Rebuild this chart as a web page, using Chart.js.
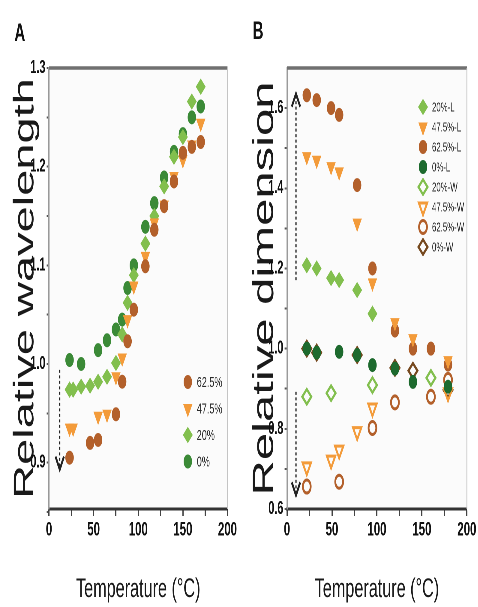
<!DOCTYPE html>
<html><head><meta charset="utf-8">
<script src="https://cdn.jsdelivr.net/npm/chart.js@4.4.1/dist/chart.umd.min.js"></script>
<style>
html,body{margin:0;padding:0;background:#fff;overflow:hidden;width:478px;height:607px}
#wrap{position:absolute;left:0;top:0;width:797px;height:607px;transform:scaleX(0.6);transform-origin:0 0;filter:blur(0.35px)}
#ca{position:absolute;left:0;top:0}
#cb{position:absolute;left:397px;top:0}
</style></head><body>
<div id="wrap"><canvas id="ca" width="398" height="607"></canvas><canvas id="cb" width="400" height="607"></canvas></div>
<script>
// ---------- Panel A data ----------
const tempA0   = [23,36,55,65,75,82,88,95,108,118,129,140,150,160,170];
const wlA0     = [1.004,1.000,1.014,1.024,1.035,1.045,1.077,1.100,1.139,1.163,1.189,1.215,1.233,1.250,1.261];
const tempA20  = [23,27,36,46,55,65,75,82,88,95,108,118,129,140,150,160,170];
const wlA20    = [0.974,0.974,0.977,0.978,0.982,0.987,1.001,1.030,1.062,1.090,1.122,1.150,1.180,1.210,1.230,1.266,1.281];
const tempA475 = [23,27,55,65,75,82,88,95,108,118,129,140,150,160,170];
const wlA475   = [0.935,0.935,0.947,0.949,0.987,1.006,1.045,1.079,1.109,1.143,1.161,1.190,1.207,1.222,1.244];
const tempA625 = [23,46,55,75,82,88,95,108,118,129,140,150,160,170];
const wlA625   = [0.905,0.920,0.923,0.949,0.982,1.023,1.055,1.099,1.136,1.160,1.185,1.214,1.220,1.225];
const labelsA  = ['62.5%','47.5%','20%','0%'];

// ---------- Panel B data ----------
const tempB   = [22,33,49,58,78,95,120,140,160,179];
const dimL20  = [1.208,1.200,1.176,1.171,1.146,1.087,null,null,null,null];
const dimL475 = [1.479,1.470,1.454,1.441,1.313,1.164,1.065,1.025,null,0.970];
const dimL625 = [1.632,1.620,1.600,1.583,1.408,1.200,1.045,1.000,1.000,0.960];
const dimL0   = [1.000,0.990,null,0.992,0.984,0.959,0.950,0.917,null,0.905];
const dimW20  = [0.880,null,0.889,null,null,0.909,null,null,0.927,null];
const dimW475 = [0.705,null,0.722,0.747,0.793,0.852,null,null,null,0.890];
const dimW625 = [0.656,null,null,0.668,null,0.802,0.866,null,0.880,0.922];
const dimW0   = [1.000,0.990,null,null,0.984,null,0.952,0.945,null,0.897];
const labelsB = ['20%-L','47.5%-L','62.5%-L','0%-L','20%-W','47.5%-W','62.5%-W','0%-W'];

// ---------- Axis ticks ----------
const xTickVals  = [0,25,50,75,100,125,150,175,200];
const xLabelVals = [0,50,100,150,200];
const xLabelTxt  = ['0','50','100','150','200'];
const yTickValsA  = [0.85,0.9,0.95,1.0,1.05,1.1,1.15,1.2,1.25,1.3];
const yLabelValsA = [0.9,1.0,1.1,1.2,1.3];
const yLabelTxtA  = ['0.9','1.0','1.1','1.2','1.3'];
const yTickValsB  = [0.6,0.7,0.8,0.9,1.0,1.1,1.2,1.3,1.4,1.5,1.6];
const yLabelValsB = [0.6,0.8,1.0,1.2,1.4,1.6];
const yLabelTxtB  = ['0.6','0.8','1.0','1.2','1.4','1.6'];

// dashed arrows (data units)
const arrowsA = [{x:12, y0:0.994, y1:0.893}];
const arrowsB = [{x:10, y0:1.171, y1:1.636},{x:10, y0:0.892, y1:0.634}];

const F  = '"Liberation Sans", Arial, sans-serif';
const FN = '"Liberation Sans Narrow", "Liberation Sans", Arial, sans-serif';
const COL = {g0:'#3b8a37', g20:'#82bf4e', o475:'#f39b3a', b625:'#b3602b', g0L:'#1d6a2e', b0W:'#76491f'};
const SHAPES = {
  circle:{pointStyle:'circle', pointRadius:6.5, pointRotation:0},
  diamond:{pointStyle:'rectRot', pointRadius:7.5, pointRotation:0},
  tri:{pointStyle:'triangle', pointRadius:8, pointRotation:180}
};

function pts(xs, ys){ const out=[]; xs.forEach((x,i)=>{ if(ys[i]!==null && ys[i]!==undefined) out.push({x:x, y:ys[i]}); }); return out; }
function ds(label, data, shape, color, open){
  return Object.assign({label:label, data:data, showLine:false,
    pointBackgroundColor: open ? 'rgba(0,0,0,0)' : color,
    pointBorderColor: color, pointBorderWidth: open ? 3 : 1,
    pointHoverRadius: SHAPES[shape].pointRadius,
    _shape: shape, _open: open, _color: color}, SHAPES[shape]);
}

function drawMarker(ctx, shape, open, color, x, y){
  ctx.beginPath();
  if(shape==='circle'){ ctx.arc(x,y,6.5,0,Math.PI*2); }
  else if(shape==='diamond'){ const r=7.5; ctx.moveTo(x,y-r); ctx.lineTo(x+r,y); ctx.lineTo(x,y+r); ctx.lineTo(x-r,y); ctx.closePath(); }
  else { const r=8; ctx.moveTo(x,y+r); ctx.lineTo(x-r*0.866,y-r/2); ctx.lineTo(x+r*0.866,y-r/2); ctx.closePath(); }
  if(!open){ ctx.fillStyle=color; ctx.fill(); }
  ctx.strokeStyle=color; ctx.lineWidth=open?3:1; ctx.stroke();
}

const decorPlugin = {
  id:'decor',
  beforeDraw(chart, args, o){
    const {ctx, chartArea:a} = chart;
    ctx.save(); ctx.fillStyle='#fbfbfb'; ctx.fillRect(a.left,a.top,a.right-a.left,a.bottom-a.top); ctx.restore();
  },
  afterDraw(chart, args, o){
    const {ctx, chartArea:a} = chart; const xs = chart.scales.x, ys = chart.scales.y;
    ctx.save();
    ctx.strokeStyle='#707070'; ctx.lineWidth=3.5; ctx.beginPath(); ctx.moveTo(a.left,a.top); ctx.lineTo(a.right,a.top); ctx.stroke();
    ctx.strokeStyle='#c4c4c4'; ctx.lineWidth=1.5; ctx.beginPath(); ctx.moveTo(a.right,a.top); ctx.lineTo(a.right,a.bottom); ctx.stroke();
    (o.arrows||[]).forEach(ar=>{
      const px=xs.getPixelForValue(ar.x), p0=ys.getPixelForValue(ar.y0), p1=ys.getPixelForValue(ar.y1);
      const dir = p1>p0 ? 1 : -1;
      ctx.strokeStyle='#222'; ctx.lineWidth=2; ctx.setLineDash([3,2.5]);
      ctx.beginPath(); ctx.moveTo(px,p0); ctx.lineTo(px,p1-dir*3); ctx.stroke();
      ctx.setLineDash([]); ctx.lineWidth=3;
      ctx.beginPath(); ctx.moveTo(px-7,p1-dir*13); ctx.lineTo(px,p1); ctx.lineTo(px+7,p1-dir*13); ctx.stroke();
    });
    const L = o.legend;
    chart.data.datasets.forEach((d,i)=>{
      const k = L.order.indexOf(i); if(k<0) return;
      const y = L.y0 + k*L.dy;
      drawMarker(ctx, d._shape, d._open, d._color, L.x, y);
      ctx.fillStyle='#2a2a2a'; ctx.font=L.font; ctx.textAlign='left'; ctx.textBaseline='middle';
      ctx.fillText(d.label, L.x+L.dx, y+1);
    });
    ctx.fillStyle='#111'; ctx.font='bold 25px '+F; ctx.textAlign='center'; ctx.textBaseline='middle';
    ctx.fillText(o.letter, o.letterX, o.letterY);
    ctx.restore();
  }
};

function labelFor(vals, txt){ return v => { const i = vals.findIndex(t=>Math.abs(t-v)<1e-9); return i>=0 ? txt[i] : ''; }; }

function makeChart(el, c){
  return new Chart(el, {
    type:'scatter',
    data:{datasets:c.datasets},
    options:{
      responsive:false, animation:false, devicePixelRatio:2,
      events:[],
      layout:{padding:{top:68, right:c.padRight, bottom:0, left:0}},
      plugins:{legend:{display:false}, tooltip:{enabled:false}, decor:c.decor},
      scales:{
        x:{type:'linear', position:'bottom', min:0, max:200,
          afterBuildTicks: s => { s.ticks = xTickVals.map(v=>({value:v})); },
          ticks:{autoSkip:false, maxRotation:0, minRotation:0, padding:3, color:'#111',
                 font:{family:F, size:19, weight:'bold'}, callback: labelFor(xLabelVals, xLabelTxt)},
          grid:{drawOnChartArea:false, drawTicks:true, tickLength:7, tickColor:'#444', tickWidth:2},
          border:{display:true, color:'#333', width:3},
          title:{display:true, text:'Temperature (°C)', color:'#1a1a1a',
                 font:{family:FN, size:27, lineHeight:1}, padding:{top:0, bottom:4}},
          afterFit: s => { s.height = 98; }
        },
        y:{type:'linear', position:'left', min:c.ymin, max:c.ymax,
          afterBuildTicks: s => { s.ticks = c.yTicks.map(v=>({value:v})); },
          ticks:{autoSkip:false, padding:2, color:'#111',
                 font:{family:F, size:18, weight:'bold'}, callback: labelFor(c.yLabVals, c.yLabTxt)},
          grid:{drawOnChartArea:false, drawTicks:true, tickLength:4, tickColor:'#555', tickWidth:2},
          border:{display:true, color:'#9a9a9a', width:2},
          title:{display:true, text:c.ytitle, color:'#1a1a1a',
                 font:{family:F, size:c.ytSize, lineHeight:1}, padding:{top:c.ytPad, bottom:0}},
          afterFit: s => { s.width = c.yWidth; }
        }
      }
    },
    plugins:[decorPlugin]
  });
}

makeChart(document.getElementById('ca'), {
  datasets:[
    ds(labelsA[0], pts(tempA625, wlA625), 'circle', COL.b625, false),
    ds(labelsA[1], pts(tempA475, wlA475), 'tri', COL.o475, false),
    ds(labelsA[2], pts(tempA20, wlA20), 'diamond', COL.g20, false),
    ds(labelsA[3], pts(tempA0, wlA0), 'circle', COL.g0, false)
  ],
  padRight:6.3, ymin:0.853, ymax:1.3, yTicks:yTickValsA, yLabVals:yLabelValsA, yLabTxt:yLabelTxtA,
  ytitle:'Relative wavelength', ytSize:47, ytPad:19, yWidth:81.7,
  decor:{arrows:arrowsA, letter:'A', letterX:33, letterY:34,
         legend:{order:[0,1,2,3], x:313, y0:382, dy:26.5, dx:15, font:'15px '+FN}}
});

makeChart(document.getElementById('cb'), {
  datasets:[
    ds(labelsB[0], pts(tempB, dimL20), 'diamond', COL.g20, false),
    ds(labelsB[1], pts(tempB, dimL475), 'tri', COL.o475, false),
    ds(labelsB[2], pts(tempB, dimL625), 'circle', COL.b625, false),
    ds(labelsB[3], pts(tempB, dimL0), 'circle', COL.g0L, false),
    ds(labelsB[4], pts(tempB, dimW20), 'diamond', COL.g20, true),
    ds(labelsB[5], pts(tempB, dimW475), 'tri', COL.o475, true),
    ds(labelsB[6], pts(tempB, dimW625), 'circle', COL.b625, true),
    ds(labelsB[7], pts(tempB, dimW0), 'diamond', COL.b0W, true)
  ],
  padRight:12, ymin:0.6, ymax:1.7, yTicks:yTickValsB, yLabVals:yLabelValsB, yLabTxt:yLabelTxtB,
  ytitle:'Relative dimension', ytSize:49, ytPad:20, yWidth:81.3,
  decor:{arrows:arrowsB, letter:'B', letterX:33, letterY:32,
         legend:{order:[0,1,2,3,4,5,6,7], x:308, y0:107, dy:20, dx:15, font:'13px '+FN}}
});
</script>
</body></html>
